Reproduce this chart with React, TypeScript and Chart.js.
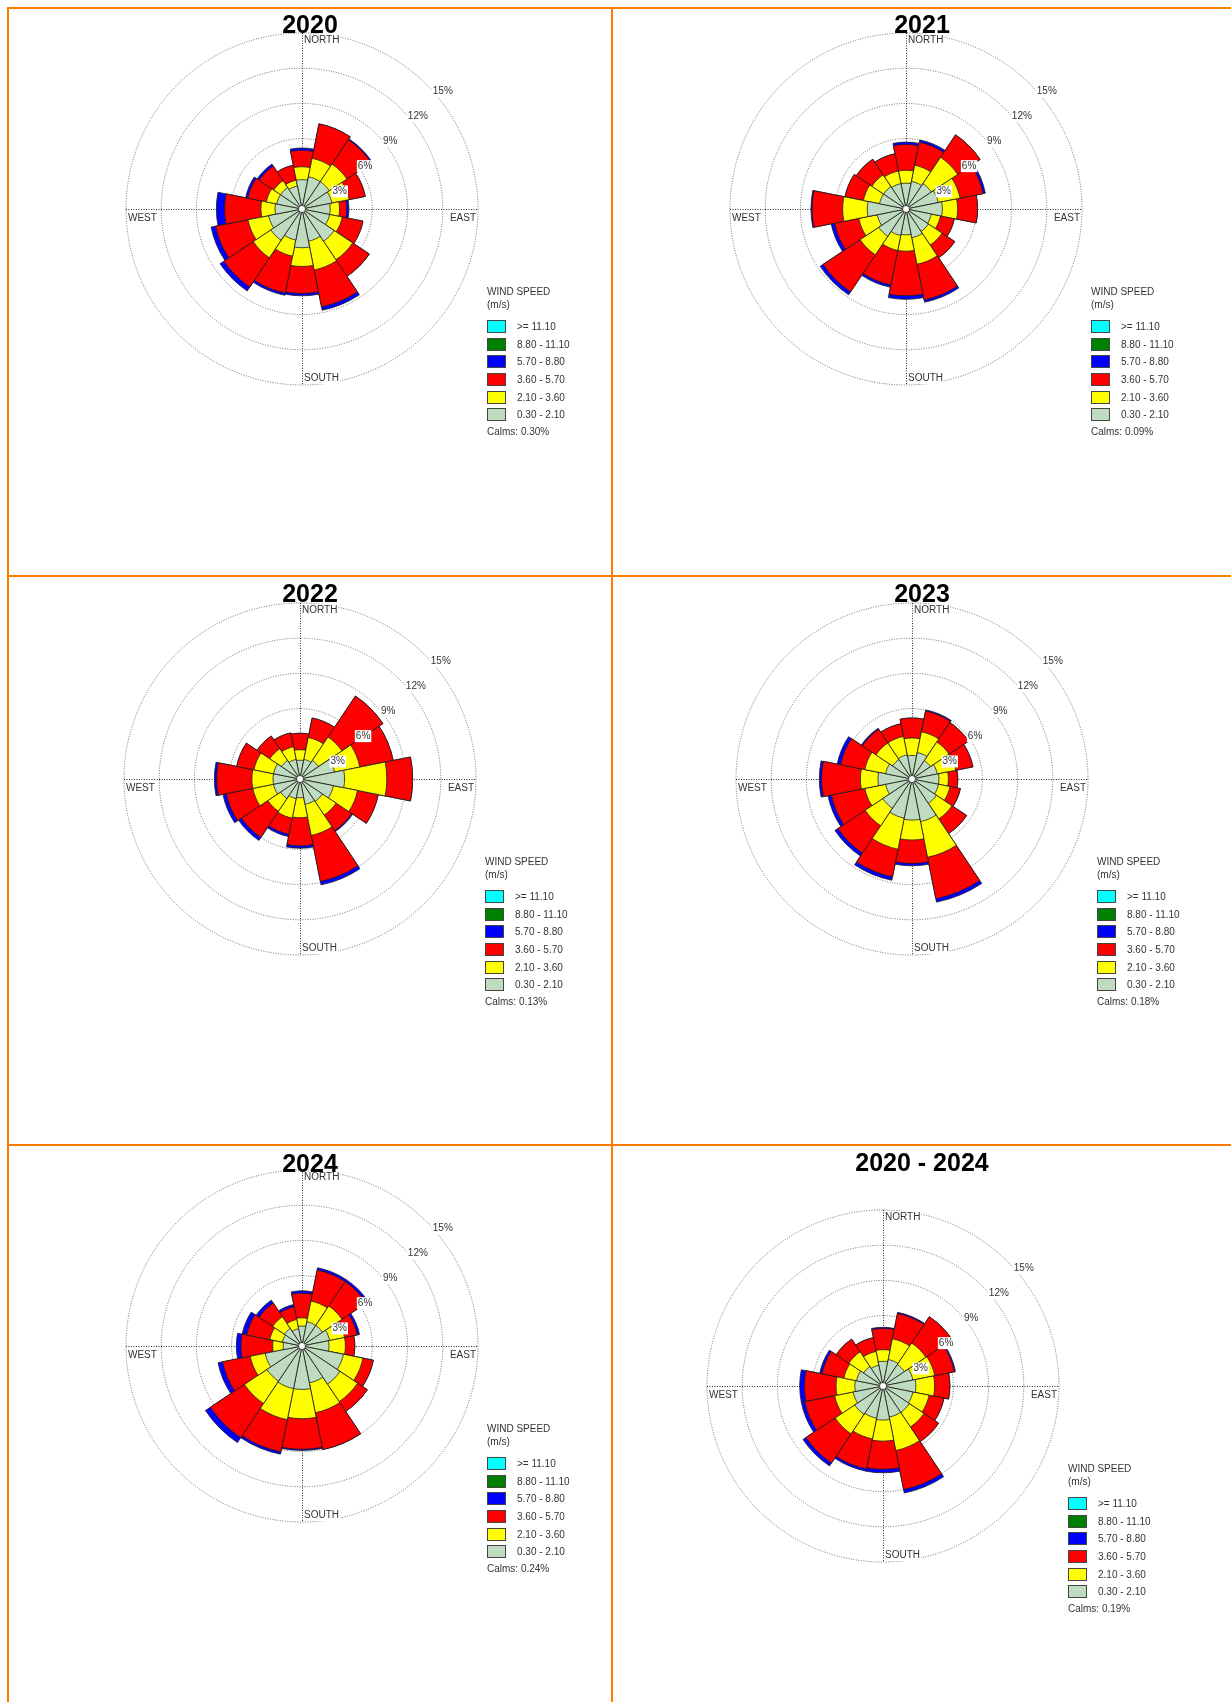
import React, { useEffect, useRef } from 'react';
import { Chart, registerables } from 'chart.js';

Chart.register(...registerables);

// ---------- data ----------
const DIRECTIONS = ['N', 'NNE', 'NE', 'ENE', 'E', 'ESE', 'SE', 'SSE', 'S', 'SSW', 'SW', 'WSW', 'W', 'WNW', 'NW', 'NNW'];
const BAND_LABELS = ['0.30 - 2.10', '2.10 - 3.60', '3.60 - 5.70', '5.70 - 8.80'];
const BAND_COLORS = ['#C0DCC0', '#FFFF00', '#FF0000', '#0000FF'];
const LEGEND_LABELS = ['>= 11.10', '8.80 - 11.10', '5.70 - 8.80', '3.60 - 5.70', '2.10 - 3.60', '0.30 - 2.10'];
const LEGEND_COLORS = ['#00FFFF', '#008000', '#0000FF', '#FF0000', '#FFFF00', '#C0DCC0'];
const RING_TICKS = [3, 6, 9, 12, 15];
const COMPASS_LABELS = ['NORTH', 'EAST', 'SOUTH', 'WEST'];
const TITLES = ['2020', '2021', '2022', '2023', '2024', '2020 - 2024'];
const CALMS = [0.3, 0.09, 0.13, 0.18, 0.24, 0.19];

// frequency (%) per direction for each wind speed class
const y2020_c1 = [2.5, 2.8, 2.8, 2.6, 2.4, 2.4, 3.3, 2.8, 3.3, 2.7, 3.2, 2.9, 2.3, 2.2, 2.2, 2.0];
const y2020_c2 = [1.1, 1.6, 1.8, 1.5, 0.8, 1.1, 1.9, 2.5, 1.6, 1.4, 1.8, 1.8, 1.2, 0.9, 0.7, 0.5];
const y2020_c3 = [1.4, 3.0, 2.5, 1.4, 0.6, 1.8, 1.7, 3.2, 2.3, 3.2, 3.0, 2.8, 3.1, 1.6, 1.5, 1.3];
const y2020_c4 = [0.2, 0.0, 0.1, 0.0, 0.2, 0.0, 0.0, 0.3, 0.2, 0.2, 0.4, 0.4, 0.7, 0.2, 0.2, 0.0];

const y2021_c1 = [2.2, 2.4, 2.6, 2.8, 3.1, 2.2, 2.3, 2.5, 2.2, 2.3, 2.8, 2.5, 3.3, 2.3, 2.3, 2.2];
const y2021_c2 = [1.1, 1.4, 2.7, 1.9, 1.3, 0.8, 1.4, 2.3, 1.4, 1.3, 1.9, 1.6, 2.1, 1.4, 1.2, 1.1];
const y2021_c3 = [2.2, 2.0, 2.3, 2.0, 1.7, 1.2, 1.3, 3.1, 3.8, 3.0, 3.8, 2.1, 2.6, 1.6, 1.6, 1.5];
const y2021_c4 = [0.2, 0.2, 0.0, 0.2, 0.0, 0.0, 0.0, 0.2, 0.3, 0.2, 0.3, 0.3, 0.1, 0.0, 0.0, 0.0];

const y2022_c1 = [1.6, 1.7, 1.9, 3.0, 3.8, 2.9, 2.3, 2.2, 1.6, 1.7, 2.0, 2.3, 2.3, 2.3, 1.9, 1.7];
const y2022_c2 = [0.9, 1.9, 2.4, 2.2, 3.6, 2.1, 1.4, 2.7, 1.7, 1.7, 1.3, 1.8, 1.8, 1.7, 1.2, 1.1];
const y2022_c3 = [1.4, 1.7, 4.2, 2.9, 2.2, 1.8, 1.6, 4.0, 2.4, 1.4, 2.7, 2.3, 3.0, 1.5, 1.3, 1.2];
const y2022_c4 = [0.0, 0.0, 0.0, 0.0, 0.0, 0.0, 0.1, 0.3, 0.2, 0.2, 0.3, 0.3, 0.2, 0.0, 0.0, 0.0];

const y2023_c1 = [2.0, 2.3, 1.9, 2.2, 2.3, 2.3, 2.5, 3.7, 3.5, 3.4, 3.0, 2.3, 2.9, 2.3, 2.0, 2.1];
const y2023_c2 = [1.5, 1.8, 1.9, 1.6, 0.8, 1.0, 1.6, 3.1, 1.7, 2.7, 1.8, 1.8, 1.5, 1.8, 1.7, 1.6];
const y2023_c3 = [1.7, 1.8, 2.0, 1.5, 0.8, 0.9, 1.5, 3.6, 2.0, 2.4, 2.8, 2.9, 3.3, 2.1, 1.4, 1.1];
const y2023_c4 = [0.0, 0.1, 0.0, 0.0, 0.0, 0.0, 0.0, 0.3, 0.2, 0.3, 0.3, 0.3, 0.2, 0.3, 0.1, 0.0];

const y2024_c1 = [1.7, 2.1, 2.1, 2.4, 2.3, 3.6, 3.9, 3.2, 3.7, 3.7, 3.6, 3.2, 1.6, 1.7, 1.8, 1.5];
const y2024_c2 = [0.7, 1.8, 2.0, 1.3, 1.4, 1.7, 1.8, 2.6, 2.5, 2.7, 2.3, 1.3, 0.9, 1.1, 1.2, 0.8];
const y2024_c3 = [2.1, 2.7, 2.5, 1.1, 0.8, 0.9, 1.0, 3.2, 2.6, 2.8, 3.5, 2.4, 2.7, 2.0, 1.4, 1.1];
const y2024_c4 = [0.2, 0.2, 0.2, 0.2, 0.0, 0.0, 0.0, 0.0, 0.1, 0.2, 0.5, 0.4, 0.4, 0.4, 0.3, 0.2];

const yAll_c1 = [2.1, 2.3, 2.2, 2.6, 2.8, 2.6, 2.7, 2.7, 2.9, 2.8, 2.9, 2.6, 2.4, 2.3, 2.0, 1.8];
const yAll_c2 = [1.0, 1.8, 2.2, 1.9, 1.6, 1.4, 1.5, 2.9, 1.8, 1.8, 2.0, 1.6, 1.6, 1.1, 1.5, 1.2];
const yAll_c3 = [1.8, 2.2, 2.7, 1.7, 1.3, 1.3, 1.5, 3.4, 2.4, 2.6, 3.0, 2.6, 2.7, 1.9, 1.3, 1.2];
const yAll_c4 = [0.1, 0.1, 0.0, 0.1, 0.0, 0.0, 0.0, 0.3, 0.3, 0.2, 0.3, 0.3, 0.4, 0.2, 0.0, 0.0];

// ---------- layout ----------
const ORANGE = '#FF7A00';
const FONT = '"Liberation Sans", Arial, Helvetica, sans-serif';
const CANVAS_W = 480;
const CANVAS_H = 440;
const R = 176;
const OFF = 200; // rose centre inside canvas

const PANELS = [
  { title: TITLES[0], calms: CALMS[0], classes: [y2020_c1, y2020_c2, y2020_c3, y2020_c4], cx: 302, cy: 209, tx: 9, tw: 602, ty: 24 },
  { title: TITLES[1], calms: CALMS[1], classes: [y2021_c1, y2021_c2, y2021_c3, y2021_c4], cx: 906, cy: 209, tx: 613, tw: 618, ty: 24 },
  { title: TITLES[2], calms: CALMS[2], classes: [y2022_c1, y2022_c2, y2022_c3, y2022_c4], cx: 300, cy: 779, tx: 9, tw: 602, ty: 593 },
  { title: TITLES[3], calms: CALMS[3], classes: [y2023_c1, y2023_c2, y2023_c3, y2023_c4], cx: 912, cy: 779, tx: 613, tw: 618, ty: 593 },
  { title: TITLES[4], calms: CALMS[4], classes: [y2024_c1, y2024_c2, y2024_c3, y2024_c4], cx: 302, cy: 1346, tx: 9, tw: 602, ty: 1163 },
  { title: TITLES[5], calms: CALMS[5], classes: [yAll_c1, yAll_c2, yAll_c3, yAll_c4], cx: 883, cy: 1386, tx: 613, tw: 618, ty: 1162 },
];

function textWithBackdrop(ctx: CanvasRenderingContext2D, text: string, x: number, y: number, align: CanvasTextAlign) {
  const w = ctx.measureText(text).width;
  let left = x;
  if (align === 'right') left = x - w;
  if (align === 'center') left = x - w / 2;
  ctx.fillStyle = '#ffffff';
  ctx.fillRect(left - 1, y - 6, w + 2, 12);
  ctx.fillStyle = '#333333';
  ctx.textAlign = align;
  ctx.fillText(text, x, y);
}

function makeDecor(calms: number) {
  return {
    id: 'roseDecor',
    beforeDatasetsDraw(chart: any) {
      const s = chart.scales.r;
      const ctx: CanvasRenderingContext2D = chart.ctx;
      const x = s.xCenter;
      const y = s.yCenter;
      const rr = s.getDistanceFromCenterForValue(s.max);
      ctx.save();
      ctx.strokeStyle = '#303030';
      ctx.lineWidth = 1;
      ctx.setLineDash([1, 1.5]);
      ctx.beginPath();
      ctx.moveTo(x + 0.5, y - rr);
      ctx.lineTo(x + 0.5, y + rr);
      ctx.moveTo(x - rr, y + 0.5);
      ctx.lineTo(x + rr, y + 0.5);
      ctx.stroke();
      ctx.restore();
    },
    afterDatasetsDraw(chart: any) {
      const s = chart.scales.r;
      const ctx: CanvasRenderingContext2D = chart.ctx;
      const x = s.xCenter;
      const y = s.yCenter;
      const rr = s.getDistanceFromCenterForValue(s.max);
      ctx.save();
      // centre hole
      ctx.beginPath();
      ctx.arc(x, y, 3.5, 0, Math.PI * 2);
      ctx.fillStyle = '#ffffff';
      ctx.fill();
      ctx.strokeStyle = '#222';
      ctx.lineWidth = 0.8;
      ctx.stroke();

      ctx.font = '10px ' + FONT;
      ctx.textBaseline = 'middle';
      // ring labels
      const c = 13;
      s.ticks.forEach((t: any) => {
        if (!RING_TICKS.includes(t.value)) return;
        const r = s.getDistanceFromCenterForValue(t.value);
        const dx = (c + Math.sqrt(2 * r * r - c * c)) / 2;
        const dy = c - dx;
        textWithBackdrop(ctx, t.value + '%', x + dx, y + dy, 'left');
      });
      // compass labels
      textWithBackdrop(ctx, COMPASS_LABELS[0], x + 2, y - rr + 7, 'left');
      textWithBackdrop(ctx, COMPASS_LABELS[1], x + rr - 2, y + 9, 'right');
      textWithBackdrop(ctx, COMPASS_LABELS[2], x + 2, y + rr - 7, 'left');
      textWithBackdrop(ctx, COMPASS_LABELS[3], x - rr + 2, y + 9, 'left');

      // legend
      const lx = x + 185;
      ctx.fillStyle = '#333333';
      ctx.textAlign = 'left';
      ctx.fillText('WIND SPEED', lx, y + 83);
      ctx.fillText('(m/s)', lx, y + 96);
      LEGEND_LABELS.forEach((lab, i) => {
        const top = Math.round(y + 111 + i * 17.67);
        ctx.fillStyle = LEGEND_COLORS[i];
        ctx.fillRect(lx, top, 19, 13);
        ctx.strokeStyle = '#444';
        ctx.lineWidth = 1;
        ctx.setLineDash([]);
        ctx.strokeRect(lx + 0.5, top + 0.5, 18, 12);
        ctx.fillStyle = '#333333';
        ctx.fillText(lab, x + 215, top + 7);
      });
      ctx.fillText('Calms: ' + calms.toFixed(2) + '%', lx, y + 223);
      ctx.restore();
    },
  };
}

function WindRose({ classes, calms, left, top }: { classes: number[][]; calms: number; left: number; top: number }) {
  const ref = useRef<HTMLCanvasElement>(null);
  useEffect(() => {
    if (!ref.current) return;
    const cumulative = classes.map((_, k) =>
      DIRECTIONS.map((__, i) => {
        let sum = 0;
        for (let j = 0; j <= k; j++) sum += classes[j][i];
        return Math.round(sum * 100) / 100;
      })
    );
    const chart = new Chart(ref.current, {
      type: 'polarArea',
      data: {
        labels: DIRECTIONS,
        datasets: cumulative.map((d, k) => ({
          label: BAND_LABELS[k],
          data: d,
          backgroundColor: BAND_COLORS[k],
          borderColor: '#1e1e1e',
          borderWidth: 0.8,
        })),
      },
      options: {
        responsive: false,
        animation: false,
        devicePixelRatio: 1,
        layout: {
          padding: { left: OFF - R, top: OFF - R, right: CANVAS_W - OFF - R, bottom: CANVAS_H - OFF - R },
        },
        plugins: { legend: { display: false }, tooltip: { enabled: false } },
        scales: {
          r: {
            min: 0,
            max: 15,
            startAngle: -11.25,
            ticks: { display: false, stepSize: 3 },
            grid: { circular: true, color: '#6a6a6a', lineWidth: 1 },
            border: { dash: [1, 1.5] },
            angleLines: { display: false },
            pointLabels: { display: false },
          },
        },
      } as any,
      plugins: [makeDecor(calms)],
    });
    return () => chart.destroy();
  }, []);
  return (
    <canvas
      ref={ref}
      width={CANVAS_W}
      height={CANVAS_H}
      style={{ position: 'absolute', left, top, width: CANVAS_W, height: CANVAS_H }}
    />
  );
}

export default function App() {
  const line = (l: number, t: number, w: number, h: number, key: string) => (
    <div key={key} style={{ position: 'absolute', left: l, top: t, width: w, height: h, background: ORANGE, zIndex: 3 }} />
  );
  return (
    <div style={{ position: 'absolute', left: 0, top: 0, width: 1231, height: 1702, overflow: 'hidden', background: '#fff' }}>
      {line(7, 7, 1240, 2, 'top')}
      {line(7, 7, 2, 1700, 'left')}
      {line(611, 7, 2, 1700, 'mid')}
      {line(7, 575, 1240, 2, 'h1')}
      {line(7, 1144, 1240, 2, 'h2')}
      {PANELS.map((p, i) => (
        <WindRose key={'rose' + i} classes={p.classes} calms={p.calms} left={p.cx - OFF} top={p.cy - OFF} />
      ))}
      {PANELS.map((p, i) => (
        <div
          key={'title' + i}
          style={{
            position: 'absolute',
            left: p.tx,
            width: p.tw,
            top: p.ty - 14.7,
            height: 30,
            lineHeight: '30px',
            fontFamily: FONT,
            fontWeight: 'bold',
            fontSize: 25,
            textAlign: 'center',
            color: '#000',
            zIndex: 2,
          }}
        >
          {p.title}
        </div>
      ))}
    </div>
  );
}
